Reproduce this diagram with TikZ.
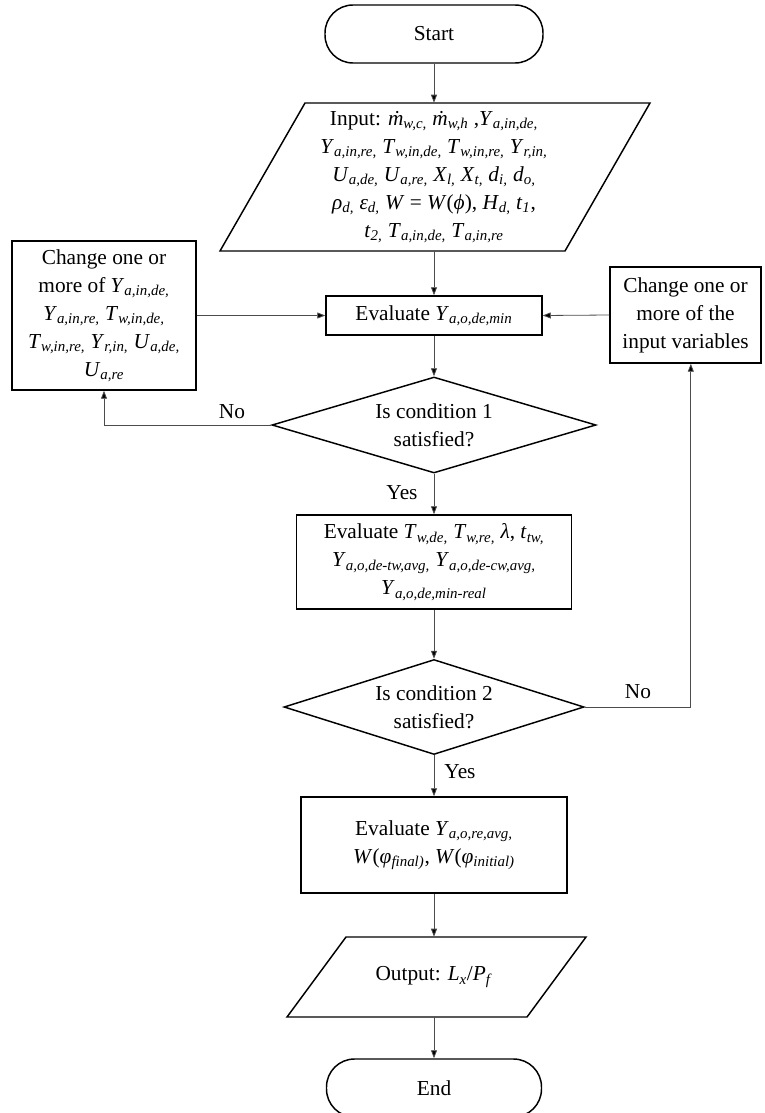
\documentclass[tikz,border=0pt]{standalone}
\usepackage{fontspec}
\setmainfont{Liberation Serif}
\usetikzlibrary{shapes.geometric,arrows.meta,calc}
\newcommand\vv[2]{\textit{#1}\textsubscript{\textit{#2}}}
\begin{document}
\begin{tikzpicture}[x=0.75pt,y=-0.75pt,
  font=\fontsize{16}{21}\selectfont,
  box/.style={draw,line width=1.1pt,align=center,inner sep=0pt},
  dia/.style={draw,diamond,line width=1.1pt,align=center,inner sep=0pt},
  arr/.style={draw=black!70,line width=0.6pt,-{Triangle[length=6pt,width=4.5pt,fill=black]}},
  lbl/.style={inner sep=0pt}
]
\useasboundingbox (0,0) rectangle (764,1113);

% Start
\node[box,rounded corners=21pt,minimum width=218*0.75pt,minimum height=58*0.75pt] (start) at (434,34) {Start};

% Input parallelogram
\draw[line width=1.1pt] (305,103) -- (650,103) -- (565,251) -- (220,251) -- cycle;
\node[align=center,inner sep=0pt,minimum height=148*0.75pt] (input) at (434,177) {Input: \textit{ṁ}\textsubscript{\textit{w,c,}} \textit{ṁ}\textsubscript{\textit{w,h}} ,\vv{Y}{a,in,de,}\\
\vv{Y}{a,in,re,} \vv{T}{w,in,de,} \vv{T}{w,in,re,} \vv{Y}{r,in,}\\
\vv{U}{a,de,} \vv{U}{a,re,} \vv{X}{l,} \vv{X}{t,} \vv{d}{i,} \vv{d}{o,}\\
\vv{ρ}{d,} \vv{ε}{d,} \textit{W} = \textit{W}(\textit{ϕ}), \vv{H}{d,} \vv{t}{1},\\
\vv{t}{2,} \vv{T}{a,in,de,} \vv{T}{a,in,re}};

% Evaluate 1
\node[box,minimum width=216*0.75pt,minimum height=39*0.75pt] (e1) at (434,315.5) {Evaluate \vv{Y}{a,o,de,min}};

% Left change box
\node[box,minimum width=184*0.75pt,minimum height=149*0.75pt] (lbox) at (104,315.5) {Change one or\\ more of \vv{Y}{a,in,de,}\\ \vv{Y}{a,in,re,} \vv{T}{w,in,de,}\\ \vv{T}{w,in,re,} \vv{Y}{r,in,} \vv{U}{a,de,}\\ \vv{U}{a,re}};

% Right change box
\node[box,minimum width=151*0.75pt,minimum height=96*0.75pt] (rbox) at (685.5,315) {Change one or\\ more of the\\ input variables};

% Diamond 1
\node[dia,aspect=3.375,minimum width=324*0.75pt,minimum height=96*0.75pt] (d1) at (434,425) {Is condition 1\\ satisfied?};

% Evaluate 2
\node[box,minimum width=275*0.75pt,minimum height=94*0.75pt] (e2) at (434,562) {Evaluate \vv{T}{w,de,} \vv{T}{w,re,} \textit{λ}, \vv{t}{tw,}\\ \vv{Y}{a,o,de-tw,avg,} \vv{Y}{a,o,de-cw,avg,}\\ \vv{Y}{a,o,de,min-real}};

% Diamond 2
\node[dia,aspect=3.16,minimum width=300*0.75pt,minimum height=95*0.75pt] (d2) at (434,707) {Is condition 2\\ satisfied?};

% Evaluate 3
\node[box,minimum width=266*0.75pt,minimum height=96*0.75pt] (e3) at (434,845) {Evaluate \vv{Y}{a,o,re,avg,}\\ \textit{W}(\vv{φ}{final)}, \textit{W}(\vv{φ}{initial)}};

% Output parallelogram
\draw[line width=1.1pt] (346,937) -- (586,937) -- (527,1017) -- (287,1017) -- cycle;
\node[align=center,inner sep=0pt,minimum height=80*0.75pt] (output) at (434,977) {Output: \vv{L}{x}/\vv{P}{f}};

% End
\node[box,rounded corners=21pt,minimum width=215*0.75pt,minimum height=58*0.75pt] (end) at (434,1088) {End};

% Labels
\node[lbl] (no1) at (232,412) {No};
\node[lbl] (yes1) at (402,493) {Yes};
\node[lbl] (no2) at (638,692) {No};
\node[lbl] (yes2) at (460,772) {Yes};

% Connectors
\draw[arr] (start.south) -- (input.north);
\draw[arr] (input.south) -- (e1.north);
\draw[arr] (lbox.east |- e1.west) -- (e1.west);
\draw[arr] (rbox.west) -- (e1.east);
\draw[arr] (e1.south) -- (d1.north);
\draw[arr] (d1.west) -| (lbox.south);
\draw[arr] (d1.south) -- (e2.north);
\draw[arr] (e2.south) -- (d2.north);
\draw[arr] (d2.east) -| ([xshift=4pt]rbox.south);
\draw[arr] (d2.south) -- (e3.north);
\draw[arr] (e3.south) -- (output.north);
\draw[arr] (output.south) -- (end.north);
\end{tikzpicture}
\end{document}
